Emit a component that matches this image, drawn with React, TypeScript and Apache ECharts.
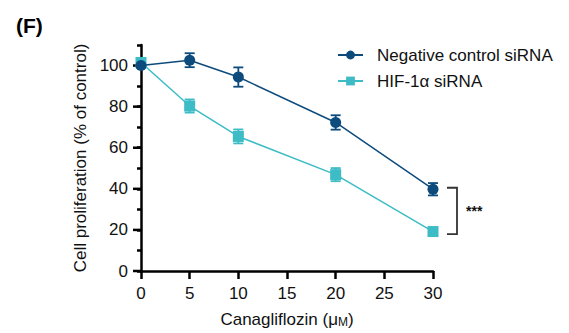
import React, { useEffect, useRef } from "react";
import * as echarts from "echarts";

const doses = [0, 5, 10, 20, 30];
const controlMean = [100, 102.6, 94.4, 72.3, 39.8];
const controlErr = [1, 3.4, 4.7, 3.5, 3];
const hifMean = [101.5, 80.3, 65.5, 46.9, 19.2];
const hifErr = [1, 3.2, 3.4, 3.2, 1.5];
const yTicks = [0, 20, 40, 60, 80, 100];
const seriesNames = ["Negative control siRNA", "HIF-1\u03b1 siRNA"];
const significance = "***";

const NAVY = "#0d4b7d";
const CYAN = "#3dbcc6";
const FONT = "Liberation Sans, Arial, sans-serif";

function errData(mean: number[], err: number[]) {
  return doses.map((d, i) => [d, mean[i] - err[i], mean[i] + err[i]]);
}

function errorBarSeries(mean: number[], err: number[], color: string) {
  return {
    type: "custom",
    silent: true,
    z: 1,
    data: errData(mean, err),
    renderItem: (params: any, api: any) => {
      const x = api.value(0);
      const lo = api.coord([x, api.value(1)]);
      const hi = api.coord([x, api.value(2)]);
      const w = 5;
      const style = { stroke: color, lineWidth: 1.8 };
      return {
        type: "group",
        children: [
          { type: "line", shape: { x1: lo[0], y1: lo[1], x2: hi[0], y2: hi[1] }, style },
          { type: "line", shape: { x1: lo[0] - w, y1: lo[1], x2: lo[0] + w, y2: lo[1] }, style },
          { type: "line", shape: { x1: hi[0] - w, y1: hi[1], x2: hi[0] + w, y2: hi[1] }, style },
        ],
      };
    },
  };
}

export default function App() {
  const ref = useRef<HTMLDivElement>(null);
  useEffect(() => {
    if (!ref.current) return;
    const chart = echarts.init(ref.current, undefined, { renderer: "svg" });
    const last = doses.length - 1;
    chart.setOption({
      animation: false,
      textStyle: { fontFamily: FONT },
      grid: { left: 141, right: 136, top: 45, bottom: 60, containLabel: false },
      title: {
        text: "(F)",
        left: 11,
        top: 10,
        textStyle: { fontSize: 21, fontWeight: "bold", color: "#000", fontFamily: FONT },
      },
      legend: {
        left: 337,
        top: 45,
        orient: "vertical",
        itemGap: 6,
        itemWidth: 25,
        itemHeight: 11,
        padding: 0,
        textStyle: { fontSize: 17, color: "#111", fontFamily: FONT, lineHeight: 20, padding: [0, 0, 0, 9] },
        data: seriesNames,
      },
      xAxis: {
        type: "value",
        min: 0,
        max: 30,
        interval: 5,
        name: "Canagliflozin (\u03bc{s|M})",
        nameLocation: "middle",
        nameGap: 40,
        nameTextStyle: {
          fontSize: 17,
          color: "#111",
          fontFamily: FONT,
          rich: { s: { fontSize: 12, color: "#111", fontFamily: FONT, verticalAlign: "bottom" } },
        },
        axisLine: { lineStyle: { color: "#000", width: 2.5 } },
        axisTick: { length: 8, lineStyle: { color: "#000", width: 2.5 } },
        axisLabel: { fontSize: 17, color: "#111", margin: 14, fontFamily: FONT },
        splitLine: { show: false },
      },
      yAxis: {
        type: "value",
        min: 0,
        max: 110,
        interval: 10,
        name: "Cell proliferation (% of control)",
        nameLocation: "middle",
        nameGap: 46,
        nameTextStyle: { fontSize: 17, color: "#111", fontFamily: FONT },
        axisLine: { show: true, lineStyle: { color: "#000", width: 2.5 } },
        axisTick: { show: true, length: 4, lineStyle: { color: "#000", width: 2.5 } },
        axisLabel: {
          fontSize: 17,
          color: "#111",
          margin: 13,
          fontFamily: FONT,
          formatter: (v: number) => (yTicks.includes(v) ? String(v) : ""),
        },
        splitLine: { show: false },
      },
      series: [
        {
          type: "custom",
          silent: true,
          z: 0,
          clip: false,
          data: yTicks.map((v) => [0, v]),
          renderItem: (params: any, api: any) => {
            const p = api.coord([api.value(0), api.value(1)]);
            return {
              type: "line",
              shape: { x1: p[0] - 8, y1: p[1], x2: p[0], y2: p[1] },
              style: { stroke: "#000", lineWidth: 2.5 },
            };
          },
        },
        errorBarSeries(hifMean, hifErr, CYAN),
        errorBarSeries(controlMean, controlErr, NAVY),
        {
          name: seriesNames[1],
          type: "line",
          z: 3,
          symbol: "rect",
          symbolSize: 11,
          clip: false,
          itemStyle: { color: CYAN },
          lineStyle: { color: CYAN, width: 1.5 },
          data: doses.map((d, i) => [d, hifMean[i]]),
        },
        {
          name: seriesNames[0],
          type: "line",
          z: 4,
          symbol: "circle",
          symbolSize: 11,
          clip: false,
          itemStyle: { color: NAVY },
          lineStyle: { color: NAVY, width: 1.5 },
          data: doses.map((d, i) => [d, controlMean[i]]),
        },
        {
          type: "custom",
          silent: true,
          z: 5,
          clip: false,
          data: [[doses[last], controlMean[last], hifMean[last]]],
          renderItem: (params: any, api: any) => {
            const top = api.coord([api.value(0), api.value(1)]);
            const bot = api.coord([api.value(0), api.value(2)]);
            const xr = top[0] + 24;
            const xl = top[0] + 14;
            return {
              type: "group",
              children: [
                {
                  type: "polyline",
                  shape: { points: [[xl, top[1] - 1.5], [xr, top[1] - 1.5], [xr, bot[1] + 2.5], [xl, bot[1] + 2.5]] },
                  style: { stroke: "#333", lineWidth: 1.8, fill: "none" },
                },
                {
                  type: "text",
                  x: xr + 9,
                  y: (top[1] + bot[1]) / 2 + 1,
                  style: {
                    text: significance,
                    fontSize: 14,
                    fontWeight: "bold",
                    fill: "#111",
                    fontFamily: FONT,
                    verticalAlign: "middle",
                  },
                },
              ],
            };
          },
        },
      ],
    });
    return () => chart.dispose();
  }, []);
  return <div ref={ref} style={{ position: "absolute", left: 0, top: 0, width: 569, height: 333 }} />;
}
